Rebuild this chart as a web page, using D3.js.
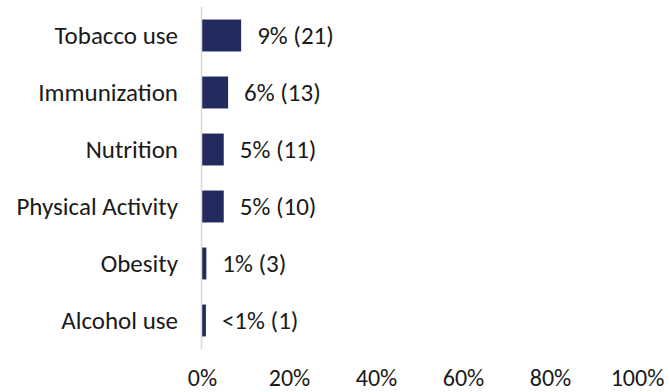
<!DOCTYPE html>
<html>
<head>
<meta charset="utf-8">
<script src="https://cdn.jsdelivr.net/npm/d3@7"></script>
<style>
  html, body { margin: 0; padding: 0; background: #fff; }
  svg { display: block; }
  text { font-family: Carlito, Calibri, Lato, "Open Sans", sans-serif; fill: #1a1a1a; }
</style>
</head>
<body>
<svg id="chart" width="669" height="392"></svg>
<script>
// Health topics and their share of responses
const categories = ["Tobacco use", "Immunization", "Nutrition", "Physical Activity", "Obesity", "Alcohol use"];
const percents = [9, 6, 5, 5, 1, 0.9];
const counts = [21, 13, 11, 10, 3, 1];
const xTicks = [0, 20, 40, 60, 80, 100];

const svg = d3.select("#chart");
const labelSize = 25;
const tickSize = 24;

const x = d3.scaleLinear().domain([0, 100]).range([202, 637]);
const y = d3.scaleBand().domain(categories).range([7, 349])
  .paddingInner(0.44).paddingOuter(0.22);

const rows = categories.map((c, i) => ({ cat: c, pct: percents[i], n: counts[i] }));
const fmtPct = v => (v < 1 ? "<1%" : Math.round(v) + "%");

// bars
svg.append("g").selectAll("rect").data(rows).join("rect")
  .attr("x", x(0))
  .attr("y", d => y(d.cat))
  .attr("width", d => x(d.pct) - x(0))
  .attr("height", y.bandwidth())
  .attr("fill", "#232b5e");

// baseline at zero
svg.append("line")
  .attr("x1", x(0) - 0.5).attr("x2", x(0) - 0.5)
  .attr("y1", y.range()[0]).attr("y2", y.range()[1])
  .attr("stroke", "#d9d9d9").attr("stroke-width", 1.5);

// value labels
svg.append("g").selectAll("text").data(rows).join("text")
  .attr("x", d => x(d.pct) + 16)
  .attr("y", d => y(d.cat) + y.bandwidth() / 2)
  .attr("dy", "0.35em")
  .style("font-size", labelSize + "px")
  .text(d => `${fmtPct(d.pct)} (${d.n})`);

// category axis
const yAxis = svg.append("g")
  .attr("transform", "translate(178,0)")
  .call(d3.axisLeft(y).tickSize(0).tickPadding(0));
yAxis.select(".domain").remove();
yAxis.selectAll("text")
  .style("font-size", labelSize + "px")
  .attr("fill", "#1a1a1a")
  .attr("font-family", null)
  .attr("dy", "0.35em");

// percent axis
const xAxis = svg.append("g")
  .attr("transform", "translate(0,378)")
  .call(d3.axisBottom(x).tickValues(xTicks).tickFormat(d => d + "%").tickSize(0).tickPadding(0));
xAxis.select(".domain").remove();
xAxis.selectAll("text")
  .style("font-size", tickSize + "px")
  .attr("fill", "#1a1a1a")
  .attr("font-family", null)
  .attr("dy", "0.32em");
</script>
</body>
</html>
